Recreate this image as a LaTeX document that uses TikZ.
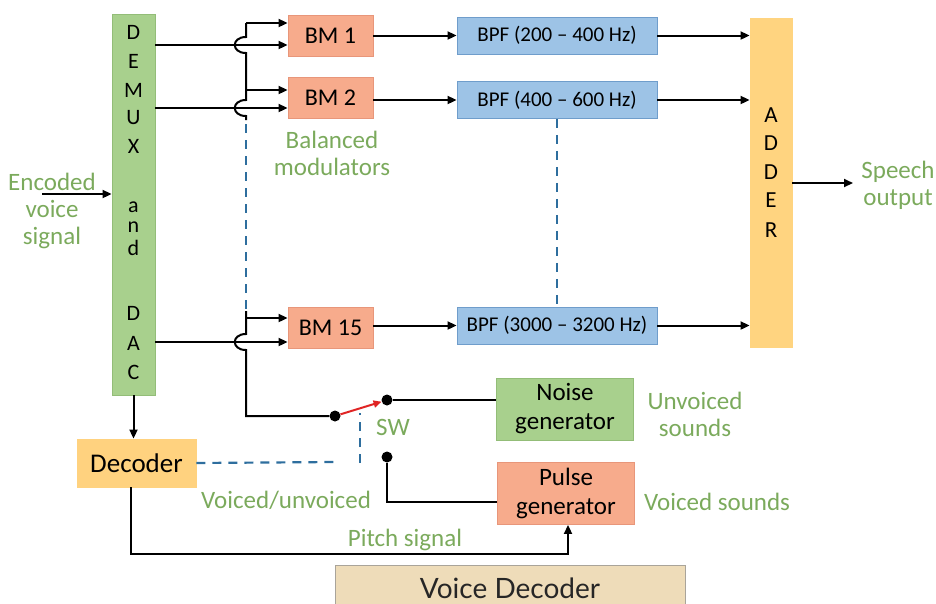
\documentclass[tikz,border=0pt]{standalone}
\usepackage{fontspec}
\setmainfont{Carlito}
\newfontfamily\vdfont{Lato}
\usetikzlibrary{arrows.meta}
\definecolor{demuxg}{HTML}{A8D08D}
\definecolor{demuxb}{HTML}{93BD78}
\definecolor{bmfill}{HTML}{F7AB8C}
\definecolor{bmdraw}{HTML}{E8967A}
\definecolor{bpffill}{HTML}{9DC3E6}
\definecolor{bpfdraw}{HTML}{6F9DCB}
\definecolor{adderf}{HTML}{FFD480}
\definecolor{decf}{HTML}{FFD27F}
\definecolor{lblgreen}{HTML}{7BAA5C}
\definecolor{dashblue}{HTML}{2E6E9E}
\definecolor{swred}{HTML}{E02424}
\definecolor{vdfill}{HTML}{EEDCB9}
\definecolor{vddraw}{HTML}{A9A49A}
\begin{document}
\begin{tikzpicture}[x=1pt,y=-1pt,
  conn/.style={line width=2pt, draw=black},
  tip/.style={-{Triangle[length=9pt,width=8pt]}},
  arr/.style={conn,tip},
  bluedash/.style={line width=2.2pt, draw=dashblue, dash pattern=on 9pt off 7pt},
  box/.style={draw, line width=0.9pt, inner sep=0pt, align=center},
  bmbox/.style={box, fill=bmfill, draw=bmdraw, minimum width=85pt, minimum height=41pt, font=\fontsize{24}{28}\selectfont},
  bpfbox/.style={box, fill=bpffill, draw=bpfdraw, minimum width=200pt, minimum height=37pt, font=\fontsize{21}{24}\selectfont},
  genbox/.style={box, minimum width=137pt, minimum height=62pt, font=\fontsize{25}{29}\selectfont},
  lbl/.style={text=lblgreen, align=center, inner sep=0pt, font=\fontsize{25}{27}\selectfont},
  letter/.style={inner sep=0pt, font=\fontsize{22}{24}\selectfont},
  dot/.style={circle, fill=black, inner sep=0pt, minimum size=11pt}
]
\useasboundingbox (0,0) rectangle (936,603);

% DEMUX and DAC
\node[box, fill=demuxg, draw=demuxb, minimum width=43pt, minimum height=381pt] (demux) at (133.5,204.5) {};
\foreach \l/\y [count=\i] in {D/32,E/61,M/90,U/118,X/146,a/207,n/227,d/248,D/313,A/343,C/372}
  \node[letter] (dl\i) at (133.5,\y) {\l};

% Balanced modulators
\node[bmbox] (bm1) at (330.5,36) {BM 1};
\node[bmbox] (bm2) at (330.5,98) {BM 2};
\node[bmbox] (bm15) at (330.5,328) {BM 15};

% Band pass filters
\node[bpfbox] (bpf1) at (557,35.5) {BPF (200 -- 400 Hz)};
\node[bpfbox] (bpf2) at (557,100) {BPF (400 -- 600 Hz)};
\node[bpfbox] (bpf3) at (557,325.5) {BPF (3000 -- 3200 Hz)};

% Adder
\node[box, fill=adderf, draw=adderf, minimum width=42pt, minimum height=329pt] (adder) at (771,182.5) {};
\foreach \l/\y [count=\i] in {A/115,D/143,D/172,E/200,R/230}
  \node[letter, font=\fontsize{23}{24}\selectfont] (al\i) at (771,\y) {\l};

% Decoder and generators
\node[box, fill=decf, draw=decf, minimum width=119pt, minimum height=48pt, font=\fontsize{27}{30}\selectfont] (decoder) at (136.5,463) {Decoder};
\node[genbox, fill=demuxg, draw=demuxb] (noise) at (565,409) {Noise\\generator};
\node[genbox, fill=bmfill, draw=bmdraw] (pulse) at (566,493.5) {Pulse\\generator};

% Switch
\node[dot] (piv) at (335,416) {};
\node[dot] (swt) at (387,400) {};
\node[dot] (swb) at (387,457) {};

% Voice Decoder title
\node[draw=vddraw, fill=vdfill, line width=0.8pt, minimum width=350pt, minimum height=42pt, inner sep=0pt] (vd) at (510,586) {};
\node[inner sep=0pt, font=\vdfont\fontsize{28}{30}\selectfont, text=black!85] (vdt) at (510,588) {Voice Decoder};

% Labels
\node[lbl] (enc) at (52,211) {Encoded\\voice\\signal};
\node[lbl] (bal) at (332,153) {Balanced\\modulators};
\node[lbl] (speech) at (898,185) {Speech\\output};
\node[lbl] (unv) at (695,414) {Unvoiced\\sounds};
\node[lbl] (vs) at (717,502) {Voiced sounds};
\node[lbl] (vu) at (286,500) {Voiced/unvoiced};
\node[lbl] (pitch) at (405,540) {Pitch signal};
\node[lbl] (sw) at (393,427) {SW};

% Input and output
\coordinate (ein) at (42,194);
\draw[arr] (ein) -- (demux.west |- ein);
\coordinate (sout) at (853,183);
\draw[arr] (adder.east |- sout) -- (sout);

% DEMUX outputs to modulators
\draw[arr] (demux.east |- 0,45) -- (bm1.west |- 0,45);
\draw[arr] (demux.east |- 0,108) -- (bm2.west |- 0,108);
\draw[arr] (demux.east |- 0,342) -- (bm15.west |- 0,342);

% Carrier bus with hops
\coordinate (btop) at (246,23);
\coordinate (b2) at (246,90);
\coordinate (b15) at (246,318);
\coordinate (bbot) at (246,416);
\draw[arr] (btop) -- (bm1.west |- btop);
\draw[conn] (btop) -- (246,37) .. controls (231,37) and (231,53) .. (246,53)
  -- (246,100) .. controls (231,100) and (231,116) .. (246,116) -- (246,120);
\draw[arr] (b2) -- (bm2.west |- b2);
\draw[bluedash] (246,124) -- (246,312);
\draw[conn] (246,311) -- (246,334) .. controls (231,334) and (231,350) .. (246,350)
  -- (bbot) -- (piv);
\draw[arr] (b15) -- (bm15.west |- b15);

% Modulators to filters
\draw[arr] (bm1.east |- bpf1.west) -- (bpf1.west);
\draw[arr] (bm2.east |- bpf2.west) -- (bpf2.west);
\draw[arr] (bm15.east |- bpf3.west) -- (bpf3.west);
\draw[bluedash] (bpf2.south) -- (bpf3.north);

% Filters to adder
\draw[arr] (bpf1.east) -- (adder.west |- bpf1.east);
\draw[arr] (bpf2.east) -- (adder.west |- bpf2.east);
\draw[arr] (bpf3.east) -- (adder.west |- bpf3.east);

% Decoder connections
\draw[arr] (demux.south) -- (demux.south |- decoder.north);
\draw[bluedash] (decoder.east) -- (335,462);
\draw[bluedash] (360,463) -- (360,413);
\draw[arr] (decoder.south -| 131,0) -- (131,554) -- (568,554) -- (pulse.south -| 568,0);

% Switch connections
\draw[line width=2pt, draw=swred, -{Triangle[length=8pt,width=7pt]}] (piv) -- (swt);
\draw[conn] (swt) -- (noise.west |- swt);
\draw[conn] (swb) -- (swb |- 0,502) -- (pulse.west |- 0,502);
\end{tikzpicture}
\end{document}
